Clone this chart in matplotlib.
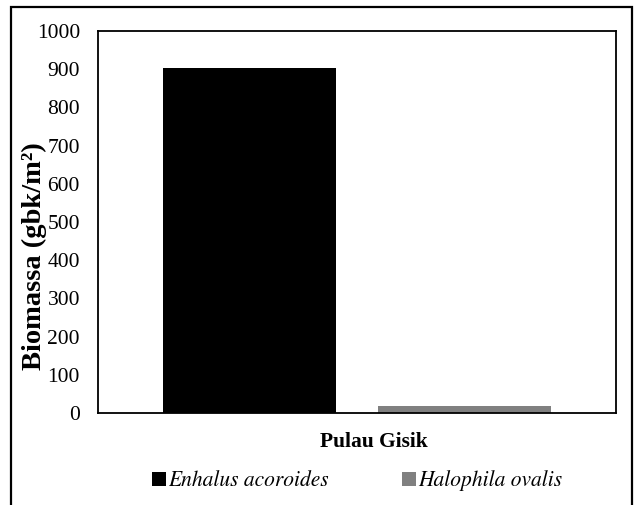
from matplotlib import pyplot as plt
from matplotlib.patches import Rectangle
import matplotlib.transforms as mtransforms
import numpy as np

categories = ['Pulau Gisik']
species = ['Enhalus acoroides', 'Halophila ovalis']
biomass = [903, 18]
colors = ['#000000', '#808080']
yticks = [0, 100, 200, 300, 400, 500, 600, 700, 800, 900, 1000]


def main():
    plt.rcParams['font.family'] = ['Liberation Serif', 'DejaVu Serif']
    fig = plt.figure(figsize=(6.38, 5.05), dpi=100)
    W, H = 638, 505
    ax = fig.add_axes([98 / W, 1 - 413 / H, 518 / W, 382 / H])

    x = np.arange(len(categories))
    width = 0.334
    offsets = [-0.2075, 0.2075]
    for i, name in enumerate(species):
        ax.bar(x + offsets[i], [biomass[i]], width, color=colors[i],
               label=name)

    ax.set_xlim(-0.5, 0.5)
    ax.set_ylim(0, 1000)
    ax.set_yticks(yticks)
    ax.set_yticklabels([str(t) for t in yticks], fontsize=15.5)
    ax.tick_params(axis='y', length=0, pad=13)
    ax.set_xticks(x)
    ax.set_xticklabels(categories, fontsize=15.5, fontweight='bold')
    ax.tick_params(axis='x', length=0, pad=14)
    shift = mtransforms.ScaledTranslation(0.17, 0, fig.dpi_scale_trans)
    for lab in ax.get_xticklabels():
        lab.set_transform(lab.get_transform() + shift)
    for s in ax.spines.values():
        s.set_linewidth(1.3)

    fig.text(34 / W, 1 - 256 / H, 'Biomassa (gbk/m²)', rotation=90,
             ha='center', va='center', fontsize=20.5, fontweight='bold')

    fig.legend(loc='center', bbox_to_anchor=(357 / W, 1 - 481 / H),
               ncol=2, frameon=False, handlelength=0.65,
               handleheight=0.65, handletextpad=0.1, columnspacing=3.4,
               prop={'family': ['STIXGeneral', 'Liberation Serif'],
                     'size': 15.5, 'style': 'italic'})

    fig.patches.append(Rectangle((11 / W, -0.1), 621 / W, 1.1 - 7 / H,
                                 transform=fig.transFigure, fill=False,
                                 edgecolor='black', linewidth=1.6))

    fig.savefig('out.png', dpi=100)


if __name__ == '__main__':
    main()
